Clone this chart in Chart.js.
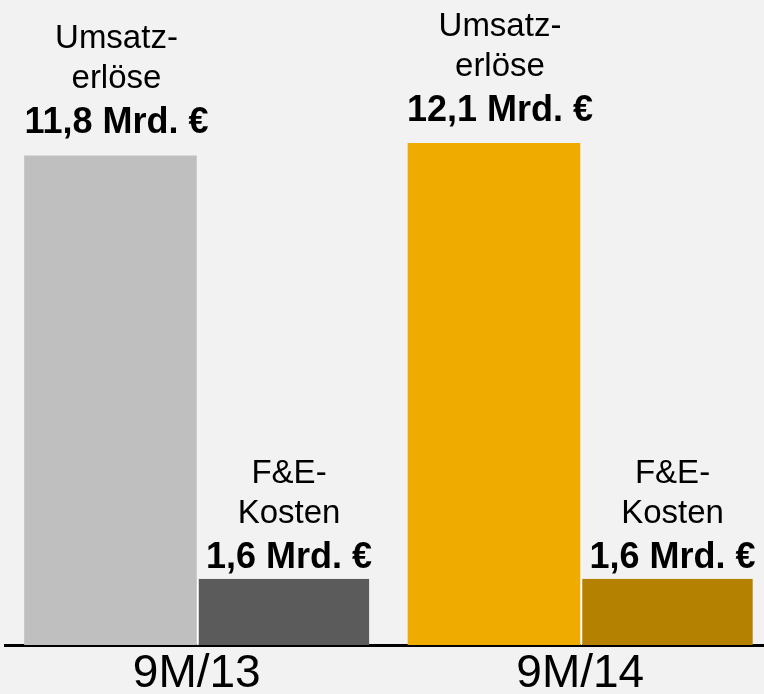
<!DOCTYPE html>
<html>
<head>
<meta charset="utf-8">
<script src="https://cdn.jsdelivr.net/npm/chart.js@4"></script>
<style>
	html, body { margin: 0; padding: 0; background: #f2f2f2; overflow: hidden; }
	#wrap { position: relative; width: 772px; height: 694px; }
</style>
</head>
<body>
<div id="wrap"><canvas id="chart" width="772" height="694"></canvas></div>
<script>
// Zeiträume
const periods = ['9M/13', '9M/14'];

// Werte in Mrd. €
const revenue = [11.8, 12.1];
const rdCosts = [1.6, 1.6];

// Beschriftungen über den Balken
const revenueName = ['Umsatz-', 'erlöse'];
const rdName = ['F&E-', 'Kosten'];

const revenueColors = ['#bfbfbf', '#f0ab00'];
const rdColors = ['#5b5b5b', '#b48200'];

const FONT = '"Liberation Sans", Arial, sans-serif';

function formatValue(v) {
	return v.toFixed(1).replace('.', ',') + ' Mrd. €';
}

const barLabels = {
	id: 'barLabels',
	afterDatasetsDraw(chart) {
		const ctx = chart.ctx;
		ctx.save();
		ctx.fillStyle = '#000';
		ctx.textAlign = 'center';
		ctx.textBaseline = 'alphabetic';
		chart.data.datasets.forEach((ds, i) => {
			const meta = chart.getDatasetMeta(i);
			meta.data.forEach((bar, j) => {
				const x = bar.x + 6;
				const base = bar.y - ds.labelGap;
				ctx.font = 'bold 36px ' + FONT;
				ctx.fillText(formatValue(ds.data[j]), x, base);
				ctx.font = '33px ' + FONT;
				ctx.fillText(ds.nameLines[1], x, base - 45);
				ctx.fillText(ds.nameLines[0], x, base - 85);
			});
		});
		ctx.restore();
	},
};

new Chart(document.getElementById('chart'), {
	type: 'bar',
	data: {
		labels: periods,
		datasets: [
			{
				data: revenue,
				backgroundColor: revenueColors,
				borderWidth: 0,
				nameLines: revenueName,
				labelGap: 22,
			},
			{
				data: rdCosts,
				backgroundColor: rdColors,
				borderColor: '#ffffff',
				borderWidth: { left: 2, top: 0, right: 0, bottom: 0 },
				borderSkipped: false,
				nameLines: rdName,
				labelGap: 11,
			},
		],
	},
	options: {
		responsive: false,
		animation: false,
		events: [],
		categoryPercentage: 0.9,
		barPercentage: 1,
		layout: {
			padding: { left: 5, right: 0, top: 2, bottom: -9 },
		},
		plugins: {
			legend: { display: false },
			tooltip: { enabled: false },
		},
		scales: {
			x: {
				z: 1,
				grid: { display: false, drawTicks: false },
				border: { display: true, color: '#000', width: 3 },
				ticks: {
					color: '#000',
					padding: 6,
					font: { family: FONT, size: 46, lineHeight: 1 },
				},
			},
			y: {
				display: false,
				min: 0,
				max: 15.5,
			},
		},
	},
	plugins: [barLabels],
});
</script>
</body>
</html>
